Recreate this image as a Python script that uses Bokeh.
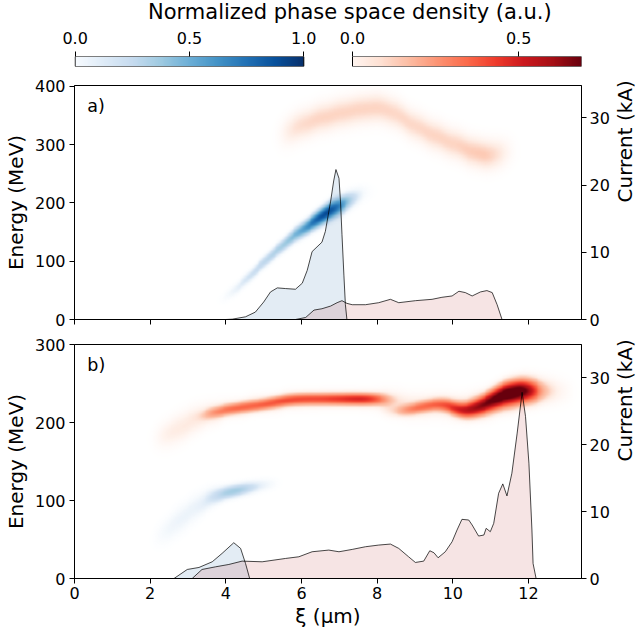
import numpy as np
from bokeh.plotting import figure
from bokeh.models import (Range1d, LinearAxis, LinearColorMapper, FixedTicker,
                          Label, Div, SingleIntervalTicker)
from bokeh.layouts import column
from bokeh.palettes import Blues256, Reds256
from bokeh.embed import file_html
from bokeh.resources import INLINE

FONT = "DejaVu Sans"
TICK_FS = "16px"
LABEL_FS = "20px"
TITLE_FS = "21px"

# ---------------- data ----------------
XI_MAX = 13.4
E_MAX_A = 401.5
E_MAX_B = 300.0
I_MAX_A = 34.8
I_MAX_B = 35.0
BLUE_VMAX = 1.0
RED_VMAX = 0.69
blue_cb_ticks = [0.0, 0.5, 1.0]
red_cb_ticks = [0.0, 0.5]
xi_ticks = [0, 2, 4, 6, 8, 10, 12]
TITLE = "Normalized phase space density (a.u.)"

# current profiles (xi in um, current in kA)
a_blue_xi = [4.0, 4.17, 4.52, 4.78, 5.00, 5.18, 5.36, 5.58, 5.84, 6.02, 6.15, 6.28, 6.41, 6.54,
             6.63, 6.77, 6.85, 6.91, 6.99, 7.03, 7.07, 7.12, 7.16, 7.20]
a_blue_I = [0, 0.05, 0.4, 1.1, 2.6, 4.1, 4.7, 4.6, 4.5, 5.4, 7.3, 10.1, 10.8, 11.5,
            13.1, 17.6, 20.6, 22.3, 21.0, 17.6, 12.6, 6.6, 2.2, 0]
a_red_xi = [5.84, 6.11, 6.33, 6.54, 6.77, 6.94, 7.07, 7.20, 7.34, 7.69, 8.04, 8.35, 8.57, 9.01,
            9.45, 9.71, 9.98, 10.16, 10.33, 10.51, 10.73, 10.90, 11.04, 11.17, 11.30]
a_red_I = [0, 0.3, 1.4, 1.6, 2.0, 2.5, 2.8, 2.4, 2.2, 2.2, 2.5, 3.0, 2.5, 2.8,
           3.0, 3.3, 3.5, 4.2, 4.0, 3.5, 4.1, 4.3, 4.0, 2.2, 0]
b_blue_xi = [2.63, 2.98, 3.29, 3.64, 3.90, 4.21, 4.39, 4.52, 4.63]
b_blue_I = [0, 1.35, 1.65, 2.5, 3.75, 5.35, 4.5, 2.25, 0]
b_red_xi = [3.11, 3.37, 3.73, 4.08, 4.43, 4.96, 5.58, 5.93, 6.28, 6.72, 6.99, 7.34, 7.69, 8.04,
            8.35, 8.57, 8.83, 9.01, 9.23, 9.39, 9.50, 9.61, 9.80, 9.98, 10.11, 10.24, 10.42,
            10.51, 10.68, 10.82, 10.88, 10.99, 11.08, 11.21, 11.32, 11.43, 11.56, 11.70, 11.83,
            11.92, 12.01, 12.09, 12.12, 12.20]
b_red_I = [0, 1.35, 1.75, 2.1, 2.6, 2.5, 3.0, 3.25, 4.0, 4.25, 4.0, 4.35, 4.75, 5.0,
           5.15, 4.5, 3.25, 2.4, 2.6, 4.15, 3.85, 3.1, 4.0, 5.5, 7.25, 8.85, 8.75,
           8.0, 6.35, 6.5, 7.5, 7.0, 8.25, 12.75, 14.15, 12.35, 15.75, 21.75, 27.85,
           24.25, 17.25, 7.25, 2.25, 0]

# phase-space density ridges: centre xi, centre energy, peak density, energy width
a_blue_ridge_xi = [3.8, 4.2, 4.6, 5.0, 5.4, 5.8, 6.1, 6.4, 6.7, 6.95, 7.2, 7.5, 7.8]
a_blue_ridge_E = [30, 48, 72, 98, 121, 142, 157, 171, 184, 193, 202, 213, 221]
a_blue_ridge_A = [0, 0.12, 0.2, 0.27, 0.33, 0.42, 0.58, 0.82, 1.0, 0.85, 0.32, 0.13, 0]
a_blue_ridge_S = [8, 8, 8, 8, 8, 9, 9, 10, 11, 11, 11, 11, 11]

a_red_ridge_xi = [5.3, 5.7, 6.1, 6.6, 7.1, 7.6, 8.1, 8.5, 9.0, 9.5, 10.0, 10.5, 10.9, 11.3, 11.7]
a_red_ridge_E = [314, 325, 337, 347, 355, 361, 364, 352, 332, 316, 302, 289, 281, 285, 290]
a_red_ridge_A = [0, 0.1, 0.12, 0.125, 0.125, 0.125, 0.125, 0.12, 0.12, 0.125, 0.125, 0.135, 0.145, 0.09, 0]
a_red_ridge_S = [21, 21, 20, 20, 20, 20, 20, 20, 20, 20, 20, 20, 20, 20, 20]

b_blue_ridge_xi = [2.0, 2.4, 2.8, 3.2, 3.6, 3.9, 4.2, 4.5, 4.8, 5.1, 5.5]
b_blue_ridge_E = [48, 60, 76, 91, 103, 109, 112, 115, 118, 121, 123]
b_blue_ridge_A = [0, 0.1, 0.12, 0.12, 0.16, 0.32, 0.4, 0.32, 0.17, 0.09, 0]
b_blue_ridge_S = [12, 13, 14, 13, 10, 6, 6, 6, 6, 6, 6]

b_red_halo1_xi = [2.0, 2.4, 2.8, 3.2, 3.6, 4.2, 5.0, 6.0, 7.0, 8.0, 8.6]
b_red_halo1_E = [178, 184, 193, 204, 212, 218, 224, 229, 230, 229, 225]
b_red_halo1_A = [0, 0.08, 0.09, 0.09, 0.08, 0.06, 0.06, 0.06, 0.06, 0.06, 0]
b_red_halo1_S = [13, 14, 15, 14, 12, 10, 10, 10, 10, 10, 10]

b_red_core1_xi = [3.3, 3.7, 4.1, 4.5, 4.9, 5.3, 5.7, 6.1, 6.5, 6.9, 7.3, 7.7, 8.0, 8.3]
b_red_core1_E = [208, 213, 217, 220, 222, 226, 229, 230, 230, 230, 230, 230, 230, 229]
b_red_core1_A = [0, 0.2, 0.28, 0.3, 0.3, 0.33, 0.35, 0.35, 0.35, 0.38, 0.42, 0.45, 0.35, 0]
b_red_core1_S = [5, 5, 5, 5, 5, 5, 5, 5, 5, 5, 5, 5, 5, 5]

b_red_core2_xi = [8.4, 8.7, 9.0, 9.3, 9.6, 9.9, 10.2, 10.5, 10.8, 11.1, 11.4, 11.7, 12.0, 12.3]
b_red_core2_E = [214, 215, 218, 221, 224, 222, 214, 216, 222, 230, 237, 240, 241, 240]
b_red_core2_A = [0, 0.18, 0.25, 0.28, 0.28, 0.33, 0.45, 0.5, 0.55, 0.6, 0.69, 0.69, 0.55, 0]
b_red_core2_S = [5, 5, 5, 5, 5, 6, 6, 7, 8, 9, 10, 10, 9, 9]

b_red_halo2_xi = [7.9, 8.4, 9.0, 9.6, 10.2, 10.8, 11.4, 12.0, 12.5, 12.9, 13.3]
b_red_halo2_E = [229, 225, 221, 222, 219, 223, 232, 240, 241, 240, 239]
b_red_halo2_A = [0, 0.08, 0.08, 0.08, 0.09, 0.11, 0.14, 0.17, 0.09, 0.05, 0]
b_red_halo2_S = [12, 13, 13, 13, 13, 13, 13, 13, 13, 13, 13]

# ---------------- layout constants (page pixels) ----------------
BORDER_L, FRAME_W, BORDER_R = 67, 507, 54
FRAME_L = 8 + BORDER_L
FRAME_R = FRAME_L + FRAME_W
BLUE_CB = (75.6, 304.3)    # left / right of the blue colour bar
RED_CB = (353.0, 582.3)
TICK_LEN = 5
TAG_Y = 0.913              # a) / b) baseline, fraction of the energy axis

# ---------------- helpers ----------------
NX, NE = 536, 300


def alpha_palette(pal, ramp=0.2):
    out = []
    n = len(pal)
    for i, c in enumerate(pal):
        a = min(1.0, (i / (n - 1)) / ramp)
        out.append(c + "%02x" % int(round(a * 255)))
    return out


BLUES = list(Blues256[::-1])
REDS = list(Reds256[::-1])
BLUES_A = alpha_palette(BLUES)
REDS_A = alpha_palette(REDS)


def ridge(xi_c, E_c, A_c, S_c, emax, h=0.22):
    xi_c = np.asarray(xi_c, float)
    E_c = np.asarray(E_c, float)
    A_c = np.asarray(A_c, float)
    S_c = np.asarray(S_c, float)
    xg = (np.arange(NX) + 0.5) * XI_MAX / NX
    eg = (np.arange(NE) + 0.5) * emax / NE
    d2 = ((xg[:, None] - xi_c[None, :]) / h) ** 2
    d2 -= d2.min(axis=1, keepdims=True)
    w = np.exp(-0.5 * d2)
    w /= w.sum(axis=1, keepdims=True)
    ec, a, s = w @ E_c, w @ A_c, w @ S_c
    return a[None, :] * np.exp(-0.5 * ((eg[:, None] - ec[None, :]) / s[None, :]) ** 2)


def style_axis(ax):
    ax.major_tick_out = TICK_LEN
    ax.major_tick_in = 0
    ax.minor_tick_line_color = None
    ax.major_tick_line_color = "black"
    ax.major_tick_line_width = 1
    ax.axis_line_color = "black"
    ax.axis_line_width = 1
    ax.major_label_text_font = FONT
    ax.major_label_text_font_size = TICK_FS
    ax.major_label_text_color = "black"
    ax.major_label_standoff = 4
    ax.axis_label_text_font = FONT
    ax.axis_label_text_font_size = LABEL_FS
    ax.axis_label_text_font_style = "normal"
    ax.axis_label_text_color = "black"


def panel(emax, imax, ytick, images, currents, tag, top, bottom, show_x):
    p = figure(frame_width=FRAME_W, frame_height=234, x_range=Range1d(0, XI_MAX),
               y_range=Range1d(0, emax), output_backend="svg", toolbar_location=None,
               min_border_left=BORDER_L, min_border_right=BORDER_R, min_border_top=top,
               min_border_bottom=bottom)
    p.extra_y_ranges = {"cur": Range1d(0, imax)}
    p.xgrid.visible = False
    p.ygrid.visible = False
    p.outline_line_color = "black"
    p.outline_line_width = 1
    p.background_fill_color = "white"
    p.border_fill_color = "white"

    for dens, pal, vmax in images:
        mapper = LinearColorMapper(palette=pal, low=0, high=vmax)
        p.image(image=[dens], x=0, y=0, dw=XI_MAX, dh=emax, color_mapper=mapper)

    for xs, ys, fc, fa in currents:
        p.varea(x=xs, y1=0, y2=ys, y_range_name="cur", fill_color=fc, fill_alpha=fa)
    for xs, ys, fc, fa in currents:
        p.line(xs, ys, y_range_name="cur", line_color="black", line_width=0.9, line_alpha=0.8)

    p.xaxis.ticker = FixedTicker(ticks=xi_ticks)
    p.yaxis.ticker = SingleIntervalTicker(interval=ytick)
    p.yaxis.axis_label = "Energy (MeV)"
    style_axis(p.xaxis[0])
    style_axis(p.yaxis[0])
    p.yaxis.axis_label_standoff = 4
    if show_x:
        p.xaxis.axis_label = "ξ (µm)"
        p.xaxis.major_label_standoff = 3
        p.xaxis.axis_label_standoff = 2
    else:
        p.xaxis.major_label_overrides = {t: "" for t in xi_ticks}
        p.xaxis.major_label_text_font_size = "1px"
        p.xaxis.major_label_standoff = 0

    ax2 = LinearAxis(y_range_name="cur", ticker=SingleIntervalTicker(interval=10),
                     axis_label="Current (kA)")
    style_axis(ax2)
    ax2.major_label_standoff = 3
    ax2.axis_label_orientation = np.pi / 2
    ax2.axis_label_standoff = 12
    p.add_layout(ax2, "right")

    p.add_layout(Label(x=0.34, y=TAG_Y * emax, text=tag, text_font=FONT,
                       text_font_size="17.5px", text_baseline="alphabetic", text_color="black"))
    return p


def cb_range(left, right, vmax):
    scale = (right - left) / vmax
    return Range1d((FRAME_L - left) / scale, (FRAME_R - left) / scale)


def cb_pos(left, right, vmax, v):
    return round(left + v * (right - left) / vmax, 2)


# ---------------- colour-bar strip ----------------
top = figure(frame_width=FRAME_W, frame_height=10, x_range=Range1d(FRAME_L, FRAME_R),
             y_range=Range1d(0, 1), x_axis_location="above", y_axis_location=None,
             output_backend="svg", toolbar_location=None, min_border_left=BORDER_L,
             min_border_right=BORDER_R, min_border_top=32, min_border_bottom=5,
             outline_line_color=None, border_fill_color=None, background_fill_color=None)
top.xgrid.visible = False
top.ygrid.visible = False
top.extra_x_ranges = {"blue": cb_range(BLUE_CB[0], BLUE_CB[1], BLUE_VMAX),
                      "red": cb_range(RED_CB[0], RED_CB[1], RED_VMAX)}
tick_pos, tick_txt = [], {}
for name, vmax, ticks, pal, (l, r) in [("blue", BLUE_VMAX, blue_cb_ticks, BLUES, BLUE_CB),
                                       ("red", RED_VMAX, red_cb_ticks, REDS, RED_CB)]:
    mapper = LinearColorMapper(palette=pal, low=0, high=vmax)
    top.image(image=[np.linspace(0, vmax, 256)[None, :]], x=0, y=0, dw=vmax, dh=1,
              color_mapper=mapper, x_range_name=name)
    top.quad(left=0, right=vmax, bottom=0, top=1, fill_color=None,
             line_color="black", line_width=1, x_range_name=name)
    for t in ticks:
        pos = cb_pos(l, r, vmax, t)
        tick_pos.append(pos)
        tick_txt[pos] = "%.1f" % t
top.xaxis.ticker = FixedTicker(ticks=tick_pos)
top.xaxis.major_label_overrides = tick_txt
style_axis(top.xaxis[0])
top.xaxis.axis_line_color = None
top.xaxis.major_label_standoff = 8

title = Div(text='<div style="font-family:\'DejaVu Sans\';font-size:%s;line-height:14px;'
                 'white-space:nowrap;color:black;text-align:left;overflow:visible">'
                 '<span style="display:inline-block;width:143px"></span>%s</div>'
                 % (TITLE_FS, TITLE),
            width=620, height=14, styles={"overflow": "visible"})

# ---------------- densities ----------------
dens_a_blue = ridge(a_blue_ridge_xi, a_blue_ridge_E, a_blue_ridge_A, a_blue_ridge_S, E_MAX_A)
dens_a_red = ridge(a_red_ridge_xi, a_red_ridge_E, a_red_ridge_A, a_red_ridge_S, E_MAX_A)
dens_b_blue = ridge(b_blue_ridge_xi, b_blue_ridge_E, b_blue_ridge_A, b_blue_ridge_S, E_MAX_B)
dens_b_red = (ridge(b_red_halo1_xi, b_red_halo1_E, b_red_halo1_A, b_red_halo1_S, E_MAX_B)
              + ridge(b_red_core1_xi, b_red_core1_E, b_red_core1_A, b_red_core1_S, E_MAX_B)
              + ridge(b_red_core2_xi, b_red_core2_E, b_red_core2_A, b_red_core2_S, E_MAX_B)
              + ridge(b_red_halo2_xi, b_red_halo2_E, b_red_halo2_A, b_red_halo2_S, E_MAX_B))

BLUE_FILL, BLUE_ALPHA = "#2a6aa8", 0.13
RED_FILL, RED_ALPHA = "#b22222", 0.12

pa = panel(E_MAX_A, I_MAX_A, 100,
           [(dens_a_red, REDS_A, RED_VMAX), (dens_a_blue, BLUES_A, BLUE_VMAX)],
           [(a_blue_xi, a_blue_I, BLUE_FILL, BLUE_ALPHA), (a_red_xi, a_red_I, RED_FILL, RED_ALPHA)],
           "a)", 14, 12, False)
pb = panel(E_MAX_B, I_MAX_B, 100,
           [(dens_b_red, REDS_A, RED_VMAX), (dens_b_blue, BLUES_A, BLUE_VMAX)],
           [(b_blue_xi, b_blue_I, BLUE_FILL, BLUE_ALPHA), (b_red_xi, b_red_I, RED_FILL, RED_ALPHA)],
           "b)", 13, 49, True)

layout = column(title, top, pa, pb)

with open("out.html", "w") as f:
    f.write(file_html(layout, INLINE))
